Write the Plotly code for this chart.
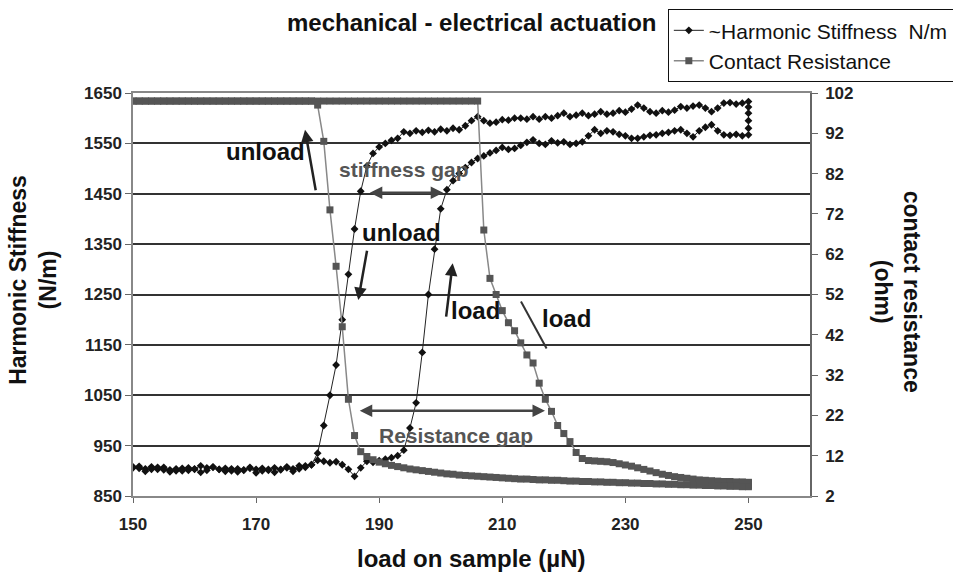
"""
mechanical - electrical actuation: harmonic stiffness vs contact resistance loop.
"""
import plotly.graph_objects as go

# ── Data ──────────────────────────────────────────────────────────────────────
LOAD_UP = [
    150, 151, 152, 153, 154, 155, 156, 157, 158, 159,
    160, 161, 162, 163, 164, 165, 166, 167, 168, 169,
    170, 171, 172, 173, 174, 175, 176, 177, 178, 179,
    180, 181, 182, 183, 184, 185, 186, 187, 188, 189,
    190, 191, 192, 193, 194, 195, 196, 197, 198, 199,
    200, 201, 202, 203, 204, 205, 206, 207, 208, 209,
    210, 211, 212, 213, 214, 215, 216, 217, 218, 219,
    220, 221, 222, 223, 224, 225, 226, 227, 228, 229,
    230, 231, 232, 233, 234, 235, 236, 237, 238, 239,
    240, 241, 242, 243, 244, 245, 246, 247, 248, 249,
    250,
]
LOAD_HOLD = [250, 250, 250, 250]
LOAD_DOWN = [
    250, 249, 248, 247, 246, 245, 244, 243, 242, 241,
    240, 239, 238, 237, 236, 235, 234, 233, 232, 231,
    230, 229, 228, 227, 226, 225, 224, 223, 222, 221,
    220, 219, 218, 217, 216, 215, 214, 213, 212, 211,
    210, 209, 208, 207, 206, 205, 204, 203, 202, 201,
    200, 199, 198, 197, 196, 195, 194, 193, 192, 191,
    190, 189, 188, 187, 186, 185, 184, 183, 182, 181,
    180, 179, 178, 177, 176, 175, 174, 173, 172, 171,
    170, 169, 168, 167, 166, 165, 164, 163, 162, 161,
    160, 159, 158, 157, 156, 155, 154, 153, 152, 151,
    150,
]

STIFF_UP = [
    906, 909, 904, 908, 903, 907, 902, 900, 905, 901,
    904, 910, 906, 908, 903, 905, 900, 904, 902, 907,
    903, 905, 901, 906, 903, 908, 904, 910, 907, 912,
    921, 919, 916, 918, 912, 903, 889, 906, 919, 917,
    920, 923, 926, 930, 941, 985, 1035, 1135, 1250, 1340,
    1420, 1458, 1476, 1490, 1502, 1512, 1520, 1525, 1531, 1536,
    1542, 1538, 1540, 1546, 1552, 1557, 1550, 1548, 1555, 1551,
    1553, 1548, 1550, 1553, 1565, 1577, 1570, 1575, 1573, 1568,
    1565, 1560, 1560, 1563, 1566, 1567, 1570, 1572, 1575, 1577,
    1570, 1563, 1575, 1582, 1587, 1575, 1567, 1566, 1568, 1565,
    1567,
]
STIFF_HOLD = [1580, 1595, 1610, 1622]
STIFF_DOWN = [
    1633, 1630, 1628, 1631, 1630, 1620, 1613, 1620, 1626, 1624,
    1620, 1623, 1616, 1612, 1615, 1610, 1613, 1620, 1626, 1618,
    1612, 1615, 1610, 1608, 1613, 1608, 1605, 1610, 1606, 1603,
    1610, 1605, 1600, 1603, 1598, 1603, 1598, 1600, 1600, 1596,
    1597, 1592, 1590, 1595, 1603, 1595, 1585, 1577, 1580, 1575,
    1578, 1573, 1576, 1572, 1575, 1570, 1573, 1560, 1556, 1550,
    1543, 1530, 1505, 1455, 1380, 1290, 1200, 1110, 1050, 990,
    935, 912, 910, 904, 899, 906, 902, 897, 903, 900,
    896, 905, 901, 898, 904, 899, 903, 907, 901, 897,
    903, 906, 900, 904, 898, 902, 907, 903, 899, 905,
    908,
]

RES_UP = [
    100, 100, 100, 100, 100, 100, 100, 100, 100, 100,
    100, 100, 100, 100, 100, 100, 100, 100, 100, 100,
    100, 100, 100, 100, 100, 100, 100, 100, 100, 100,
    100, 100, 100, 100, 100, 100, 100, 100, 100, 100,
    100, 100, 100, 100, 100, 100, 100, 100, 100, 100,
    100, 100, 100, 100, 100, 100, 100, 68, 56, 52,
    48, 45, 43, 40, 37, 35, 30, 26, 23, 19.5,
    17.5, 15.5, 12.8, 11.3, 10.8, 10.7, 10.6, 10.5, 10.3, 10.0,
    9.7, 9.4, 9.0, 8.6, 8.2, 7.8, 7.4, 7.1, 6.8, 6.6,
    6.4, 6.2, 6.0, 5.9, 5.8, 5.7, 5.6, 5.6, 5.5, 5.5,
    5.4,
]
RES_HOLD = [5.2, 5.0, 4.8, 4.6]
RES_DOWN = [
    4.3, 4.3, 4.4, 4.4, 4.5, 4.5, 4.6, 4.6, 4.7, 4.7,
    4.8, 4.8, 4.9, 4.9, 5.0, 5.0, 5.1, 5.1, 5.2, 5.2,
    5.3, 5.3, 5.4, 5.4, 5.5, 5.5, 5.6, 5.6, 5.7, 5.7,
    5.8, 5.9, 5.9, 6.0, 6.0, 6.1, 6.2, 6.2, 6.3, 6.4,
    6.5, 6.6, 6.7, 6.8, 6.9, 7.0, 7.1, 7.2, 7.4, 7.5,
    7.7, 7.9, 8.1, 8.3, 8.5, 8.7, 9.0, 9.3, 9.6, 10.0,
    10.4, 11.0, 11.8, 13.0, 17, 26, 44, 59, 73, 90,
    99, 100, 100, 100, 100, 100, 100, 100, 100, 100,
    100, 100, 100, 100, 100, 100, 100, 100, 100, 100,
    100, 100, 100, 100, 100, 100, 100, 100, 100, 100,
    100,
]

X_TICKS = [150, 170, 190, 210, 230, 250]
Y_TICKS = [850, 950, 1050, 1150, 1250, 1350, 1450, 1550, 1650]
Y2_TICKS = [2, 12, 22, 32, 42, 52, 62, 72, 82, 92, 102]

FONT = "Arial, Liberation Sans, sans-serif"
LABEL_FONT = dict(family=FONT, size=24, color="#111", weight="bold")
AXIS_TITLE_FONT = dict(family=FONT, size=23, color="#111", weight="bold")
GAP_FONT = dict(family=FONT, size=21, color="#555", weight="bold")
TICK_FONT = dict(family=FONT, size=17, color="#222", weight="bold")
TITLE_FONT = dict(family=FONT, size=24, color="#111", weight="bold")


def build_figure() -> go.Figure:
    load = LOAD_UP + LOAD_HOLD + LOAD_DOWN
    stiff = STIFF_UP + STIFF_HOLD + STIFF_DOWN
    res = RES_UP + RES_HOLD + RES_DOWN

    fig = go.Figure()
    fig.add_trace(go.Scatter(
        x=load, y=stiff, name="~Harmonic Stiffness\u00a0 N/m",
        mode="lines+markers",
        line=dict(color="#222", width=1),
        marker=dict(symbol="diamond", size=6, color="#111"),
    ))
    fig.add_trace(go.Scatter(
        x=load, y=res, name="Contact Resistance", yaxis="y2",
        mode="lines+markers",
        line=dict(color="#888", width=1.5),
        marker=dict(symbol="square", size=7, color="#555"),
    ))

    # text labels
    labels = [
        ("unload", 171.45, 1533, LABEL_FONT),
        ("stiffness gap", 194.0, 1499, GAP_FONT),
        ("unload", 193.7, 1373, LABEL_FONT),
        ("load", 205.7, 1219, LABEL_FONT),
        ("load", 220.5, 1203, LABEL_FONT),
        ("Resistance gap", 202.5, 971, GAP_FONT),
    ]
    for text, x, y, font in labels:
        fig.add_annotation(x=x, y=y, xref="x", yref="y", text=text,
                           showarrow=False, font=font,
                           xanchor="center", yanchor="middle")

    # arrows: (tail x, tail y, head x, head y, colour, double)
    arrows = [
        (179.73, 1454, 177.95, 1577, "#222", False),
        (188.23, 1452, 200.4, 1452, "#444", True),
        (188.07, 1340, 186.6, 1239, "#222", False),
        (200.85, 1203, 201.94, 1312, "#222", False),
        (186.6, 1019, 216.94, 1019, "#444", True),
    ]
    for ax, ay, x, y, color, both in arrows:
        fig.add_annotation(
            x=x, y=y, ax=ax, ay=ay, xref="x", yref="y", axref="x", ayref="y",
            text="", showarrow=True, arrowhead=2, arrowsize=1, arrowwidth=2.5,
            arrowcolor=color, arrowside="end+start" if both else "end",
            startarrowhead=2, startarrowsize=1,
        )
    fig.add_shape(type="line", xref="x", yref="y", x0=213.04, y0=1236,
                  x1=217.2, y1=1143, line=dict(color="#333", width=2))

    # titles (explicit anchors: "auto" would snap them to an edge)
    titles = [
        ("mechanical - electrical actuation", 0.5, 1.176, 0, TITLE_FONT),
        ("load on sample (µN)", 0.5007, -0.154, 0, TITLE_FONT),
        ("Harmonic Stiffness<br>(N/m)", -0.148, 0.536, -90, AXIS_TITLE_FONT),
        ("contact resistance<br>(ohm)", 1.129, 0.506, 90, AXIS_TITLE_FONT),
    ]
    for text, x, y, angle, font in titles:
        fig.add_annotation(x=x, y=y, xref="paper", yref="paper", text=text,
                           textangle=angle, showarrow=False, font=font,
                           xanchor="center", yanchor="middle")

    fig.update_layout(
        width=953, height=573,
        margin=dict(l=133, r=143, t=93, b=77, autoexpand=False),
        plot_bgcolor="white", paper_bgcolor="white",
        font=dict(family=FONT),
        showlegend=True,
        legend=dict(
            x=0.790, y=1.208, xanchor="left", yanchor="top",
            bordercolor="#111", borderwidth=1, bgcolor="white",
            font=dict(family=FONT, size=21, color="#111"),
        ),
        xaxis=dict(
            range=[150, 260], tickvals=X_TICKS, showgrid=False,
            showline=True, linecolor="#888", linewidth=1.5, mirror=True,
            ticks="outside", ticklen=5, tickcolor="#666", tickfont=TICK_FONT,
            ticklabelstandoff=7, zeroline=False,
        ),
        yaxis=dict(
            range=[850, 1650], tickvals=Y_TICKS, showgrid=True,
            gridcolor="#333", gridwidth=1.5,
            showline=True, linecolor="#888", linewidth=1.5,
            ticks="outside", ticklen=6, tickcolor="#666", tickfont=TICK_FONT,
            zeroline=False,
        ),
        yaxis2=dict(
            range=[2, 102], tickvals=Y2_TICKS, overlaying="y", side="right",
            showgrid=False, showline=True, linecolor="#666", linewidth=1.5,
            ticks="outside", ticklen=6, tickcolor="#666", tickfont=TICK_FONT,
            ticklabelstandoff=4, zeroline=False,
        ),
    )
    return fig


fig = build_figure()
# the page body has a default 8px margin; drop it so the chart sits at 0,0
fig.write_html("out.html", config={"displayModeBar": False},
               post_script="document.body.style.margin = '0';")
